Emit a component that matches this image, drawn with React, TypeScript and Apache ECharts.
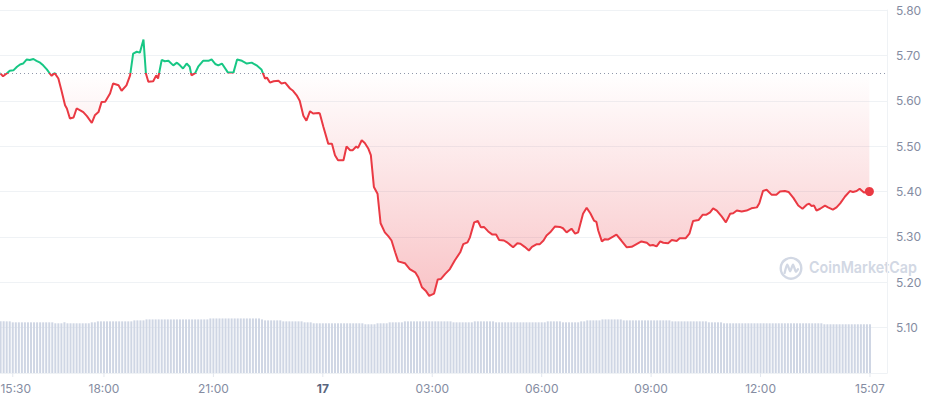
import React, { useEffect, useRef } from "react";
import * as echarts from "echarts";

// [minutes since 15:00 on the 16th, price]
const pricePoints: [number, number][] = [
  [9, 5.661], [14, 5.654], [20, 5.66], [25, 5.666], [31, 5.667], [37, 5.675], [42, 5.68], [47, 5.682],
  [53, 5.691], [58, 5.69], [64, 5.692], [69, 5.688], [75, 5.684], [80, 5.678], [86, 5.669], [91, 5.66],
  [94, 5.655], [99, 5.661], [105, 5.649], [110, 5.623], [116, 5.59], [119, 5.583], [124, 5.561], [130, 5.563],
  [135, 5.583], [141, 5.579], [146, 5.575], [152, 5.566], [160, 5.551], [165, 5.568], [171, 5.575], [176, 5.597],
  [182, 5.598], [190, 5.616], [195, 5.638], [204, 5.634], [209, 5.622], [217, 5.634], [223, 5.656], [228, 5.704],
  [234, 5.708], [239, 5.706], [245, 5.735], [249, 5.66], [253, 5.642], [261, 5.643], [266, 5.656], [269, 5.649],
  [275, 5.69], [280, 5.687], [286, 5.688], [294, 5.678], [300, 5.684], [305, 5.678], [310, 5.671], [316, 5.682],
  [321, 5.675], [324, 5.656], [330, 5.661], [335, 5.675], [343, 5.688], [352, 5.688], [357, 5.691], [363, 5.681],
  [368, 5.678], [374, 5.682], [384, 5.662], [393, 5.662], [399, 5.691], [407, 5.688], [415, 5.682], [423, 5.684],
  [431, 5.678], [439, 5.669], [445, 5.649], [448, 5.651], [453, 5.64], [459, 5.643], [467, 5.644], [472, 5.638],
  [478, 5.64], [486, 5.627], [491, 5.622], [497, 5.612], [502, 5.6], [508, 5.567], [513, 5.556], [519, 5.577],
  [524, 5.572], [533, 5.573], [535, 5.572], [541, 5.542], [549, 5.505], [555, 5.505], [560, 5.48], [565, 5.469],
  [574, 5.469], [579, 5.499], [585, 5.491], [589, 5.491], [595, 5.499], [598, 5.496], [604, 5.513], [609, 5.507],
  [615, 5.494], [619, 5.48], [624, 5.41], [630, 5.395], [635, 5.33], [642, 5.31], [648, 5.301], [653, 5.292],
  [659, 5.266], [664, 5.246], [675, 5.242], [683, 5.229], [692, 5.222], [697, 5.211], [703, 5.189], [710, 5.18],
  [715, 5.17], [723, 5.175], [729, 5.206], [734, 5.207], [741, 5.218], [749, 5.229], [757, 5.248], [766, 5.266],
  [771, 5.284], [778, 5.288], [782, 5.299], [789, 5.332], [795, 5.335], [800, 5.321], [805, 5.322], [812, 5.312],
  [819, 5.305], [825, 5.305], [830, 5.293], [838, 5.292], [843, 5.288], [853, 5.277], [860, 5.286], [865, 5.285],
  [872, 5.278], [879, 5.27], [884, 5.278], [892, 5.284], [897, 5.284], [903, 5.292], [908, 5.303], [914, 5.31],
  [922, 5.323], [930, 5.322], [935, 5.319], [941, 5.31], [949, 5.318], [955, 5.307], [960, 5.31], [968, 5.351],
  [974, 5.364], [980, 5.352], [986, 5.336], [990, 5.333], [993, 5.314], [999, 5.29], [1004, 5.295], [1009, 5.294],
  [1018, 5.301], [1023, 5.305], [1031, 5.292], [1040, 5.277], [1048, 5.278], [1056, 5.284], [1064, 5.29], [1073, 5.287],
  [1078, 5.281], [1083, 5.282], [1089, 5.279], [1095, 5.29], [1100, 5.287], [1108, 5.286], [1114, 5.293], [1122, 5.291],
  [1127, 5.297], [1137, 5.297], [1143, 5.307], [1149, 5.335], [1158, 5.337], [1165, 5.349], [1171, 5.349], [1177, 5.354],
  [1182, 5.363], [1188, 5.358], [1196, 5.345], [1203, 5.332], [1210, 5.351], [1215, 5.352], [1221, 5.358], [1229, 5.356],
  [1237, 5.358], [1245, 5.363], [1254, 5.365], [1258, 5.374], [1264, 5.401], [1270, 5.404], [1278, 5.393], [1286, 5.393],
  [1292, 5.4], [1300, 5.401], [1306, 5.399], [1314, 5.386], [1322, 5.369], [1329, 5.362], [1336, 5.371], [1340, 5.373],
  [1344, 5.368], [1348, 5.369], [1352, 5.358], [1358, 5.362], [1366, 5.369], [1371, 5.365], [1379, 5.36], [1385, 5.365],
  [1391, 5.374], [1399, 5.389], [1407, 5.401], [1412, 5.399], [1418, 5.401], [1423, 5.406], [1430, 5.398], [1439, 5.4],
];

const openPrice = 5.662;

// volume (M USD), one bar per 5 minutes starting 15:10
const volumeStartMinute = 10;
const volumeStepMinutes = 5;
const volumes: number[] = [
  106, 106, 106, 106,
  104, 104, 104, 104, 104, 104, 104, 104, 104, 104, 104, 104, 104, 104,
  102, 102, 102,
  104,
  102, 102, 102, 102, 102, 102, 102, 102,
  104, 104,
  106, 106, 106, 106, 106, 106, 106, 106, 106, 106, 106, 106,
  108, 108, 108, 108,
  110, 110, 110, 110, 110, 110, 110, 110, 110, 110, 110, 110, 110, 110, 110, 110, 110, 110, 110, 110, 110,
  112, 112, 112, 112, 112, 112, 112, 112, 112, 112, 112, 112, 112, 112, 112, 112, 112,
  110,
  108, 108, 108, 108, 108, 108,
  106, 106, 106, 106, 106, 106, 106,
  104, 104, 104,
  102, 102, 102, 102, 102, 102, 102, 102, 102, 102, 102, 102, 102, 102, 102, 102, 102,
  100, 100, 100, 100,
  102, 102, 102, 102,
  104, 104, 104, 104, 104,
  106, 106, 106, 106, 106, 106, 106, 106, 106, 106, 106, 106, 106, 106, 106, 106,
  104, 104, 104, 104, 104, 104, 104,
  106, 106, 106, 106, 106, 106, 106,
  104, 104, 104, 104, 104, 104, 104, 104, 104, 104, 104, 104, 104, 104, 104, 104, 104,
  106, 106, 106, 106, 106,
  104, 104, 104, 104, 104, 104,
  106, 106,
  108, 108, 108, 108, 108,
  110, 110, 110, 110, 110, 110, 110,
  108, 108, 108, 108, 108, 108, 108, 108, 108, 108, 108, 108, 108, 108, 108, 108,
  106, 106, 106, 106, 106, 106, 106, 106, 106, 106, 106, 106,
  104, 104, 104, 104, 104,
  102, 102, 102, 102, 102, 102, 102, 102, 102, 102, 102, 102, 102, 102, 102, 102, 102, 102, 102, 102, 102, 102, 102, 102, 102, 102, 102, 102, 102, 102, 102, 102, 102,
  100, 100, 100, 100, 100, 100, 100, 100, 100, 100, 100, 100, 100, 100, 100, 100,
];

const xMin = 9;
const xMax = 1468;
const xStep = 3;
const xTickMinutes = [30, 180, 360, 540, 720, 900, 1080, 1260, 1440];
const xTickLabels = ["15:30", "18:00", "21:00", "17", "03:00", "06:00", "09:00", "12:00", "15:07"];
const yMin = 5.0;
const yMax = 5.8;
const yStep = 0.1;

const GREEN = "#16c784";
const RED = "#ea3943";
const WATERMARK = "#d2d8e4";
const WM_TEXT = "CoinMarketCap";
const WM_FONT = "600 16px Inter";

export default function App() {
  const ref = useRef<HTMLDivElement>(null);

  useEffect(() => {
    if (!ref.current) return;
    const chart = echarts.init(ref.current, null, { renderer: "svg" });
    const last = pricePoints[pricePoints.length - 1];
    const volumeData = volumes.map((v, i) => [volumeStartMinute + i * volumeStepMinutes, v]);

    // fit the watermark word to the reference width
    let wmScale = 0.9;
    try {
      const ctx = document.createElement("canvas").getContext("2d");
      if (ctx) {
        ctx.font = WM_FONT;
        const w = ctx.measureText(WM_TEXT).width;
        if (w > 0) wmScale = 108 / w;
      }
    } catch (e) {
      /* keep default */
    }

    const areaGradient = new echarts.graphic.LinearGradient(
      0, 0, 0, 373,
      [
        { offset: 0, color: "rgba(22,199,132,0.24)" },
        { offset: 0.194, color: "rgba(22,199,132,0)" },
        { offset: 0.194, color: "rgba(234,57,67,0)" },
        { offset: 1, color: "rgba(234,57,67,0.4)" },
      ],
      true
    );

    chart.setOption({
      animation: false,
      textStyle: { fontFamily: "Inter, 'Noto Sans', sans-serif" },
      grid: { left: 0, right: 42, top: 10, bottom: 27, containLabel: false, outerBoundsMode: "none" },
      xAxis: {
        type: "value",
        min: xMin,
        max: xMax,
        interval: xStep,
        axisLine: { show: true, lineStyle: { color: "#eff2f5", width: 1 } },
        axisTick: { show: false },
        axisLabel: {
          color: "#858ca2",
          fontSize: 12,
          margin: 9,
          showMinLabel: false,
          showMaxLabel: false,
          formatter: (v: number) => {
            const i = xTickMinutes.indexOf(Math.round(v));
            if (i < 0) return "";
            const s = xTickLabels[i];
            if (i === 0) return "{first|" + s + "}";
            return s.indexOf(":") < 0 ? "{b|" + s + "}" : s;
          },
          rich: {
            b: { fontWeight: "bold", color: "#58667e", fontSize: 12 },
            first: { color: "#858ca2", fontSize: 12, padding: [0, 0, 0, 6] },
          },
        },
        splitLine: { show: false },
      },
      yAxis: [
        {
          type: "value",
          position: "right",
          min: yMin,
          max: yMax,
          interval: yStep,
          axisLine: { show: true, lineStyle: { color: "#eff2f5" } },
          axisTick: { show: false },
          axisLabel: {
            color: "#858ca2",
            fontSize: 12,
            margin: 9,
            formatter: (v: number) => (v <= yMin + 1e-9 ? "" : v.toFixed(2)),
          },
          splitLine: { show: true, lineStyle: { color: "#eff2f5", width: 1 } },
        },
        { type: "value", min: 0, max: 745, show: false, splitLine: { show: false } },
      ],
      visualMap: {
        show: false,
        type: "piecewise",
        seriesIndex: 0,
        dimension: 1,
        pieces: [
          { gt: openPrice, lte: 100, color: GREEN },
          { gt: 0, lte: openPrice, color: RED },
        ],
      },
      series: [
        {
          type: "line",
          data: pricePoints,
          yAxisIndex: 0,
          symbol: "none",
          showSymbol: false,
          lineStyle: { width: 2 },
          areaStyle: { origin: openPrice, color: areaGradient, opacity: 1 },
          z: 3,
          markLine: {
            silent: true,
            symbol: ["none", "none"],
            data: [
              {
                yAxis: openPrice,
                lineStyle: { type: [1, 3], color: "#8f97aa", width: 1 },
                label: { show: false },
              },
              {
                yAxis: last[1],
                lineStyle: { width: 0, opacity: 0 },
                label: {
                  show: true,
                  position: "end",
                  distance: 0,
                  formatter: last[1].toFixed(2),
                  backgroundColor: RED,
                  color: "#ffffff",
                  fontWeight: "bold",
                  fontSize: 12,
                  padding: [4, 9, 3, 9],
                },
              },
            ],
          },
          markPoint: {
            silent: true,
            symbol: "circle",
            symbolSize: 9,
            itemStyle: { color: RED },
            label: { show: false },
            data: [{ coord: last }],
          },
        },
        {
          // volume bars
          type: "custom",
          data: volumeData,
          yAxisIndex: 1,
          silent: true,
          encode: { x: 0, y: 1 },
          renderItem: (_params: any, api: any) => {
            const t = api.value(0);
            const top = api.coord([t, api.value(1)]);
            const base = api.coord([t, 0]);
            return {
              type: "rect",
              shape: { x: top[0] - 1, y: top[1], width: 2, height: base[1] - top[1] },
              style: { fill: "#cfd6e4" },
            };
          },
          z: 1,
        },
        {
          // small x-axis tick marks under the labelled times
          type: "custom",
          data: xTickMinutes,
          yAxisIndex: 0,
          silent: true,
          clip: false,
          renderItem: (_params: any, api: any) => {
            const p = api.coord([api.value(0), yMin]);
            return {
              type: "line",
              shape: { x1: p[0], y1: p[1], x2: p[0], y2: p[1] + 4 },
              style: { stroke: "#e3e7ee", lineWidth: 1 },
            };
          },
          z: 1,
        },
      ],
      graphic: [
        {
          type: "circle",
          silent: true,
          shape: { cx: 791, cy: 268.3, r: 10.3 },
          style: { fill: "none", stroke: WATERMARK, lineWidth: 2.4 },
        },
        {
          type: "polyline",
          silent: true,
          shape: {
            points: [[784.6, 273], [787.3, 264.6], [790.2, 271.2], [793, 264.6], [795.8, 271.6], [798, 269.2]],
            smooth: 0.25,
          },
          style: { fill: "none", stroke: WATERMARK, lineWidth: 2.3, lineCap: "round", lineJoin: "round" },
        },
        {
          type: "text",
          silent: true,
          x: 809,
          y: 267.6,
          scaleX: wmScale,
          style: {
            text: WM_TEXT,
            fontFamily: "Inter",
            fontSize: 16,
            fontWeight: 600,
            fill: WATERMARK,
            verticalAlign: "middle",
            align: "left",
          },
        },
      ],
    });

    return () => chart.dispose();
  }, []);

  return (
    <div
      ref={ref}
      style={{ position: "absolute", left: 0, top: 0, width: 929, height: 400 }}
    />
  );
}
